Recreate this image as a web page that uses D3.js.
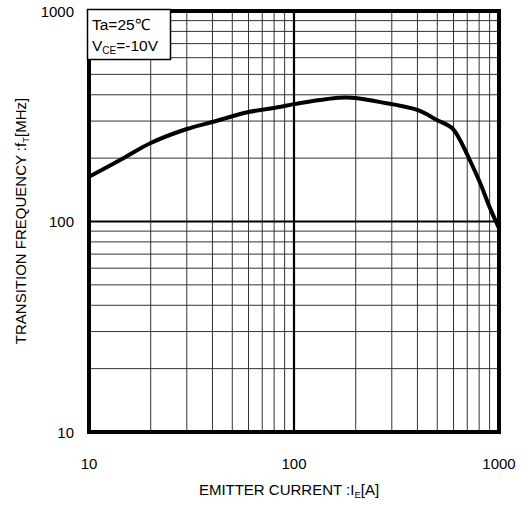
<!DOCTYPE html>
<html>
<head>
<meta charset="utf-8">
<script src="https://cdn.jsdelivr.net/npm/d3@7"></script>
<style>
  body { margin: 0; background: #fff; }
  svg { display: block; font-family: "Liberation Sans", Arial, sans-serif; }
</style>
</head>
<body>
<svg id="chart"></svg>
<script>
// fT vs IE
var emitterCurrent = [10, 15, 20, 30, 40, 60, 85, 100, 180, 260, 400, 500, 590, 645, 720, 810, 900, 1000]
var transitionFreq = [163, 202, 236, 275, 297, 331, 350, 361, 388, 370, 339, 303, 278, 244, 196, 152, 117, 93]
var xTicks = [10, 100, 1000]
var yTicks = [10, 100, 1000]
var conditions = ["Ta=25\u2103", "V|CE|=-10V"]

var dimensions = {
    width: 528,
    height: 505,
    margin: { top: 11, bottom: 73, left: 89, right: 29 }
}

var svg = d3.select('#chart')
    .attr("width", dimensions.width)
    .attr("height", dimensions.height)

var xScale = d3.scaleLog()
    .domain([10, 1000])
    .range([dimensions.margin.left, dimensions.width - dimensions.margin.right])

var yScale = d3.scaleLog()
    .domain([10, 1000])
    .range([dimensions.height - dimensions.margin.bottom, dimensions.margin.top])

var x0 = xScale.range()[0], x1 = xScale.range()[1]
var y0 = yScale.range()[1], y1 = yScale.range()[0]

// minor grid: 2..9 in each decade
var minor = []
;[10, 100].forEach(function (dec) {
    for (var k = 2; k <= 9; k++) minor.push(dec * k)
})

var grid = svg.append("g")
grid.selectAll(".vx")
    .data(minor)
    .enter().append("line")
    .attr("x1", d => xScale(d)).attr("x2", d => xScale(d))
    .attr("y1", y0).attr("y2", y1)
    .attr("stroke", "#333").attr("stroke-width", 1)
grid.selectAll(".hy")
    .data(minor)
    .enter().append("line")
    .attr("y1", d => yScale(d)).attr("y2", d => yScale(d))
    .attr("x1", x0).attr("x2", x1)
    .attr("stroke", "#333").attr("stroke-width", 1)

// decade lines
grid.append("line")
    .attr("x1", xScale(100)).attr("x2", xScale(100))
    .attr("y1", y0).attr("y2", y1)
    .attr("stroke", "#000").attr("stroke-width", 2.2)
grid.append("line")
    .attr("y1", yScale(100)).attr("y2", yScale(100))
    .attr("x1", x0).attr("x2", x1)
    .attr("stroke", "#000").attr("stroke-width", 2.2)

// curve
var line = d3.line()
    .x(d => xScale(d[0]))
    .y(d => yScale(d[1]))
    .curve(d3.curveCatmullRom.alpha(0.5))

svg.append("path")
    .datum(d3.zip(emitterCurrent, transitionFreq))
    .attr("d", line)
    .attr("fill", "none")
    .attr("stroke", "#000")
    .attr("stroke-width", 4)
    .attr("stroke-linejoin", "round")

// frame
svg.append("rect")
    .attr("x", x0).attr("y", y0)
    .attr("width", x1 - x0).attr("height", y1 - y0)
    .attr("fill", "none")
    .attr("stroke", "#000")
    .attr("stroke-width", 4)

// condition box
var box = svg.append("g")
box.append("rect")
    .attr("x", 87.5).attr("y", 9.5)
    .attr("width", 83).attr("height", 50)
    .attr("fill", "#fff")
    .attr("stroke", "#000")
    .attr("stroke-width", 1.5)
box.append("text")
    .attr("x", 92).attr("y", 29.5)
    .attr("font-size", 15.5)
    .text(conditions[0])
var vce = box.append("text")
    .attr("x", 92).attr("y", 51)
    .attr("font-size", 15.5)
var parts = conditions[1].split("|")
vce.append("tspan").text(parts[0])
vce.append("tspan").attr("font-size", 10).attr("dy", 3).text(parts[1])
vce.append("tspan").attr("dy", -3).text(parts[2])

// tick labels
svg.append("g").selectAll("text")
    .data(xTicks)
    .enter().append("text")
    .attr("x", d => xScale(d))
    .attr("y", 469)
    .attr("text-anchor", "middle")
    .attr("font-size", 15)
    .text(d => d)

svg.append("g").selectAll("text")
    .data(yTicks)
    .enter().append("text")
    .attr("x", 74)
    .attr("y", d => yScale(d) + 5.5)
    .attr("text-anchor", "end")
    .attr("font-size", 15)
    .text(d => d)

// axis titles
var xt = svg.append("text")
    .attr("x", 289).attr("y", 495)
    .attr("text-anchor", "middle")
    .attr("font-size", 15)
xt.append("tspan").text("EMITTER CURRENT :I")
xt.append("tspan").attr("font-size", 9.5).attr("dy", 3).text("E")
xt.append("tspan").attr("dy", -3).text("[A]")

var yt = svg.append("text")
    .attr("transform", "translate(26,221) rotate(-90)")
    .attr("text-anchor", "middle")
    .attr("font-size", 15)
yt.append("tspan").text("TRANSITION FREQUENCY :f")
yt.append("tspan").attr("font-size", 9.5).attr("dy", 3).text("T")
yt.append("tspan").attr("dy", -3).text("[MHz]")
</script>
</body>
</html>
